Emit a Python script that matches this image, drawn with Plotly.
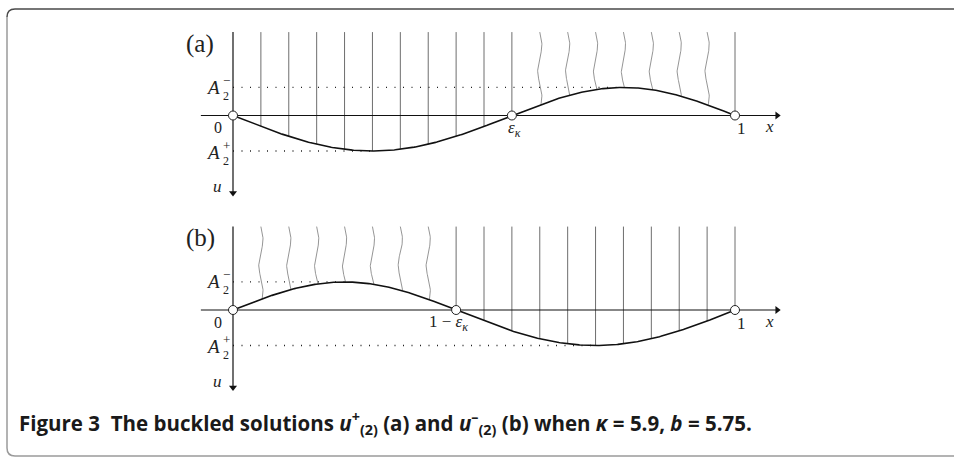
import numpy as np
import plotly.graph_objects as go

# ---------------- data ----------------
N_FIBERS = 18                 # number of fibre intervals on [0, 1]
EPS_INDEX = 10                # epsilon_kappa = 10/18
EPS = EPS_INDEX / N_FIBERS
A_PLUS = 1.0                  # |A2+| (drawn below the axis)
A_MINUS = 0.79                # |A2-| (drawn above the axis)
FIBER_TOP = 2.35
AXIS_BOTTOM = -2.28
X_AXIS_START = -0.064
X_AXIS_END = 1.09
WAVE_AMP = 0.0042
WAVE_PERIOD = 1.45

panels = ["a", "b"]
caption = ("Figure 3  The buckled solutions <i>u</i><sup>+</sup><sub>(2)</sub> (a) and "
           "<i>u</i><sup>\u2013</sup><sub>(2)</sub> (b) when <i>\u03ba</i> = 5.9, <i>b</i> = 5.75.")

# ---------------- geometry helpers (layout) ----------------
W, H = 954, 463
S = 35.5                      # px per unit in u
X0_PX, X1_PX = 233, 735
AX_A_PX, AX_B_PX = 115.5, 310
SPLIT_PX = 200


def curve(panel, x):
    x = np.asarray(x, dtype=float)
    if panel == "a":
        return np.where(x < EPS, -A_PLUS * np.sin(np.pi * x / EPS),
                        A_MINUS * np.sin(np.pi * (x - EPS) / (1 - EPS)))
    e2 = 1 - EPS
    return np.where(x < e2, A_MINUS * np.sin(np.pi * x / e2),
                    -A_PLUS * np.sin(np.pi * (x - e2) / EPS))


def px2paper(px, py):
    return px / W, 1 - py / H


fig = go.Figure()

for panel in panels:
    yref = "y" if panel == "a" else "y2"
    zero = EPS if panel == "a" else 1 - EPS
    zero_k = EPS_INDEX if panel == "a" else N_FIBERS - EPS_INDEX

    # straight and wavy fibres
    sx, sy, wx, wy = [], [], [], []
    for k in range(1, N_FIBERS + 1):
        xk = k / N_FIBERS
        yk = float(curve(panel, xk))
        if abs(yk) < 1e-9:
            yk = 0.0
        wavy = (panel == "a" and zero_k < k < N_FIBERS) or (panel == "b" and k < zero_k)
        if wavy:
            ys = np.linspace(FIBER_TOP, yk, 60)
            xs = xk + WAVE_AMP * np.sin(2 * np.pi * (FIBER_TOP - ys) / WAVE_PERIOD)
            wx += list(xs) + [None]
            wy += list(ys) + [None]
        else:
            sx += [xk, xk, None]
            sy += [FIBER_TOP, yk, None]
    fig.add_trace(go.Scatter(x=sx, y=sy, mode="lines", yaxis=yref,
                             line=dict(color="#6e6e6e", width=1), hoverinfo="skip"))
    fig.add_trace(go.Scatter(x=wx, y=wy, mode="lines", yaxis=yref,
                             line=dict(color="#7a7a7a", width=0.8), hoverinfo="skip"))

    # dotted amplitude guides
    if panel == "a":
        xm, xp = (EPS + 1) / 2, EPS / 2
    else:
        xm, xp = (1 - EPS) / 2, (1 - EPS + 1) / 2
    for xe, ye in [(xm, A_MINUS), (xp, -A_PLUS)]:
        fig.add_trace(go.Scatter(x=[0, xe], y=[ye, ye], mode="lines", yaxis=yref,
                                 line=dict(color="#222", width=1.3, dash="1px,7.5px"),
                                 hoverinfo="skip"))

    # axes lines with arrowheads
    fig.add_trace(go.Scatter(x=[X_AXIS_START, X_AXIS_END - 0.006], y=[0, 0], mode="lines",
                             yaxis=yref, line=dict(color="#111", width=1.2), hoverinfo="skip"))
    fig.add_trace(go.Scatter(x=[0, 0], y=[FIBER_TOP, AXIS_BOTTOM + 0.1], mode="lines",
                             yaxis=yref, line=dict(color="#111", width=1.2), hoverinfo="skip"))
    fig.add_trace(go.Scatter(x=[X_AXIS_END - 0.006], y=[0], mode="markers", yaxis=yref,
                             marker=dict(symbol="triangle-right", size=7, color="#111",
                                         line=dict(width=0)), hoverinfo="skip"))
    fig.add_trace(go.Scatter(x=[0], y=[AXIS_BOTTOM + 0.1], mode="markers", yaxis=yref,
                             marker=dict(symbol="triangle-down", size=7, color="#111",
                                         line=dict(width=0)), hoverinfo="skip"))

    # buckled curve
    xc = np.linspace(0, 1, 400)
    fig.add_trace(go.Scatter(x=xc, y=curve(panel, xc), mode="lines", yaxis=yref,
                             line=dict(color="#111", width=1.6), hoverinfo="skip"))

    # hinge circles
    fig.add_trace(go.Scatter(x=[0, zero, 1], y=[0, 0, 0], mode="markers", yaxis=yref,
                             marker=dict(symbol="circle", size=9, color="white",
                                         line=dict(color="#222", width=1)),
                             hoverinfo="skip"))

    # labels
    serif = "Liberation Serif"

    def lab(x, y, text, size=15, xanchor="center", color="#222"):
        fig.add_annotation(x=x, y=y, xref="x", yref=yref, text=text, showarrow=False,
                           xanchor=xanchor, yanchor="middle",
                           font=dict(family=serif, size=size, color=color))
    lab(-0.0657, 2.02, f"({panel})", size=25)
    for ylev, sign in [(A_MINUS, "\u2212"), (-A_PLUS - 0.04, "+")]:
        lab(-0.021, ylev, "<i>A</i>", size=19, xanchor="right")
        lab(-0.023, ylev + 0.2, sign, size=13, xanchor="left")
        lab(-0.023, ylev - 0.24, "2", size=12, xanchor="left")
    lab(-0.030, -0.35, "0", size=16)
    lab(-0.030, -2.0, "<i>u</i>", size=17)
    lab(1.012, -0.37, "1", size=17)
    lab(1.0697, -0.32, "<i>x</i>", size=17)
    if panel == "a":
        lab(EPS + 0.005, -0.38, "<i>\u03b5</i><sub><i>\u03ba</i></sub>", size=17)
    else:
        lab(0.472, -0.37, "1 \u2212 <i>\u03b5</i><sub><i>\u03ba</i></sub>", size=17,
            xanchor="right")


# frame (rounded box)
def P(px, py):
    a, b = px2paper(px, py)
    return f"{a:.5f},{b:.5f}"


top_path = f"M {P(958, 9)} L {P(15, 9)} Q {P(7, 9)} {P(7, 17)}"
rest_path = f"M {P(7, 17)} L {P(7, 448)} Q {P(7, 456)} {P(15, 456)} L {P(958, 456)}"
fig.add_shape(type="path", path=top_path, xref="paper", yref="paper",
              line=dict(color="#4a4a4a", width=1.5))
fig.add_shape(type="path", path=rest_path, xref="paper", yref="paper",
              line=dict(color="#9a9a9a", width=1.5))

cx, cy = px2paper(17, 423)
fig.add_annotation(x=cx, y=cy, xref="paper", yref="paper", text=f"<b>{caption}</b>",
                   showarrow=False, xanchor="left", yanchor="middle",
                   font=dict(family="Open Sans", size=20.5, color="#1a1a1a"))

# axes layout
xr = [(0 - X0_PX) / (X1_PX - X0_PX), (W - X0_PX) / (X1_PX - X0_PX)]
ya_range = [-(SPLIT_PX - AX_A_PX) / S, AX_A_PX / S]
yb_range = [-(H - AX_B_PX) / S, (AX_B_PX - SPLIT_PX) / S]
hidden = dict(visible=False, showgrid=False, zeroline=False, fixedrange=True)
fig.update_layout(
    width=W, height=H, margin=dict(l=0, r=0, t=0, b=0),
    paper_bgcolor="white", plot_bgcolor="white", showlegend=False,
    xaxis=dict(range=xr, domain=[0, 1], **hidden),
    yaxis=dict(range=ya_range, domain=[1 - SPLIT_PX / H, 1], **hidden),
    yaxis2=dict(range=yb_range, domain=[0, 1 - SPLIT_PX / H], anchor="x", **hidden),
)

fig.write_html("out.html", config={"displayModeBar": False, "staticPlot": True},
               post_script="document.body.style.margin='0';"
                           "document.body.style.overflow='hidden';")
